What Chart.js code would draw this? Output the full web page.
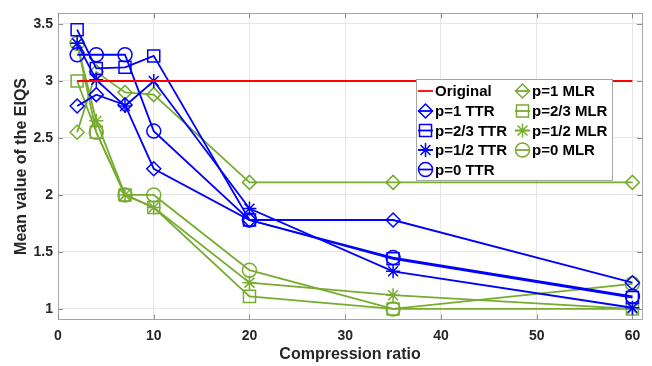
<!DOCTYPE html>
<html>
<head>
<meta charset="utf-8">
<script src="https://cdn.jsdelivr.net/npm/chart.js@4.4.0/dist/chart.umd.min.js"></script>
<style>
html, body { margin: 0; padding: 0; background: #fff; }
#grafico { display: block; }
</style>
</head>
<body>
<canvas id="grafico" width="652" height="366"></canvas>
<script>
// datos
const ratios = [2, 4, 7, 10, 20, 35, 60];
const original = [3, 3, 3, 3, 3, 3, 3];
const p1TTR = [2.78, 2.88, 2.79, 2.23, 1.78, 1.78, 1.23];
const p23TTR = [3.45, 3.11, 3.12, 3.22, 1.78, 1.44, 1.10];
const p12TTR = [3.33, 3.01, 2.78, 3.00, 1.88, 1.33, 1.01];
const p0TTR = [3.23, 3.23, 3.23, 2.56, 1.78, 1.45, 1.11];
const p1MLR = [2.55, 3.08, 2.90, 2.88, 2.11, 2.11, 2.11];
const p23MLR = [3.00, 2.55, 2.00, 1.89, 1.11, 1.00, 1.00];
const p12MLR = [3.33, 2.65, 2.00, 1.89, 1.23, 1.12, 1.00];
const p0MLR = [3.33, 2.55, 2.00, 2.00, 1.34, 1.00, 1.22];
const xTicks = [0, 10, 20, 30, 40, 50, 60];
const yTicks = [1, 1.5, 2, 2.5, 3, 3.5];

const azul = '#0000ff';
const verde = '#77ac30';
const rojo = '#ff0000';
const fuente = '"Liberation Sans", Arial, sans-serif';

function puntos(valores) {
    return ratios.map(function (r, i) { return { x: r, y: valores[i] }; });
}

function serie(label, valores, color, estilo, radio) {
    return {
        label: label,
        data: puntos(valores),
        borderColor: color,
        backgroundColor: color,
        borderWidth: 1.8,
        pointStyle: estilo,
        pointRadius: radio,
        pointHoverRadius: radio,
        pointBorderColor: color,
        pointBackgroundColor: 'rgba(0,0,0,0)',
        pointBorderWidth: 1.5,
        tension: 0,
        clip: false
    };
}

function marcador(ctx, estilo, x, y, r) {
    ctx.beginPath();
    if (estilo === 'circle') {
        ctx.arc(x, y, r, 0, Math.PI * 2);
    } else if (estilo === 'rect') {
        const s = r * Math.SQRT1_2;
        ctx.rect(x - s, y - s, 2 * s, 2 * s);
    } else if (estilo === 'rectRot') {
        ctx.moveTo(x, y - r);
        ctx.lineTo(x + r, y);
        ctx.lineTo(x, y + r);
        ctx.lineTo(x - r, y);
        ctx.closePath();
    } else if (estilo === 'star') {
        for (let k = 0; k < 4; k++) {
            const a = k * Math.PI / 4;
            ctx.moveTo(x - r * Math.cos(a), y - r * Math.sin(a));
            ctx.lineTo(x + r * Math.cos(a), y + r * Math.sin(a));
        }
    }
    ctx.stroke();
}

// marco de los ejes y marcas hacia dentro
const marco = {
    id: 'marco',
    beforeDatasetsDraw(chart) {
        const a = chart.chartArea;
        const ctx = chart.ctx;
        const sx = chart.scales.x;
        const sy = chart.scales.y;
        ctx.save();
        ctx.strokeStyle = '#a6a6a6';
        ctx.lineWidth = 1;
        ctx.strokeRect(Math.round(a.left) + 0.5, Math.round(a.top) + 0.5,
            Math.round(a.right - a.left), Math.round(a.bottom - a.top));
        ctx.strokeStyle = '#8c8c8c';
        ctx.beginPath();
        xTicks.forEach(function (v) {
            const px = Math.round(sx.getPixelForValue(v)) + 0.5;
            ctx.moveTo(px, a.bottom); ctx.lineTo(px, a.bottom - 5);
            ctx.moveTo(px, a.top); ctx.lineTo(px, a.top + 5);
        });
        yTicks.forEach(function (v) {
            const py = Math.round(sy.getPixelForValue(v)) + 0.5;
            ctx.moveTo(a.left, py); ctx.lineTo(a.left + 5, py);
            ctx.moveTo(a.right, py); ctx.lineTo(a.right - 5, py);
        });
        ctx.stroke();
        ctx.restore();
    }
};

// leyenda en dos columnas como en la figura
const leyenda = {
    id: 'leyenda',
    afterDraw(chart) {
        const ctx = chart.ctx;
        const ds = chart.data.datasets;
        ctx.save();
        ctx.fillStyle = '#ffffff';
        ctx.fillRect(416.5, 79.5, 196, 101);
        ctx.strokeStyle = '#a6a6a6';
        ctx.lineWidth = 1;
        ctx.strokeRect(416.5, 79.5, 196, 101);
        const columnas = [[0, 1, 2, 3, 4], [5, 6, 7, 8]];
        const xs = [418, 515];
        const filas = [91, 111, 130.5, 150, 169.5];
        ctx.font = 'bold 15px ' + fuente;
        ctx.textBaseline = 'middle';
        columnas.forEach(function (col, c) {
            col.forEach(function (idx, f) {
                const d = ds[idx];
                const x0 = xs[c];
                const y = filas[f];
                ctx.strokeStyle = d.borderColor;
                ctx.lineWidth = 1.8;
                ctx.beginPath();
                ctx.moveTo(x0, y);
                ctx.lineTo(x0 + 15, y);
                ctx.stroke();
                if (d.pointStyle && d.pointRadius > 0) {
                    ctx.lineWidth = 1.5;
                    marcador(ctx, d.pointStyle, x0 + 7.5, y, d.pointRadius);
                }
                ctx.fillStyle = '#000000';
                ctx.fillText(d.label, x0 + 17, y + 1);
            });
        });
        ctx.restore();
    }
};

const ctx = document.getElementById('grafico');

new Chart(ctx, {
    type: 'line',
    data: {
        datasets: [
            Object.assign(serie('Original', original, rojo, false, 0), { borderWidth: 2 }),
            serie('p=1 TTR', p1TTR, azul, 'rectRot', 7),
            serie('p=2/3 TTR', p23TTR, azul, 'rect', 8.5),
            serie('p=1/2 TTR', p12TTR, azul, 'star', 7),
            serie('p=0 TTR', p0TTR, azul, 'circle', 7),
            serie('p=1 MLR', p1MLR, verde, 'rectRot', 7),
            serie('p=2/3 MLR', p23MLR, verde, 'rect', 8.5),
            serie('p=1/2 MLR', p12MLR, verde, 'star', 7),
            serie('p=0 MLR', p0MLR, verde, 'circle', 7)
        ]
    },
    options: {
        responsive: false,
        animation: false,
        devicePixelRatio: 1,
        layout: { padding: { left: 0, top: 9, right: 9, bottom: 0 } },
        plugins: {
            legend: { display: false },
            tooltip: { enabled: false }
        },
        scales: {
            x: {
                type: 'linear',
                min: 0,
                max: 61,
                afterBuildTicks: function (scale) {
                    scale.ticks = xTicks.map(function (v) { return { value: v }; });
                },
                afterFit: function (scale) { scale.height = 46.5; },
                grid: { color: '#e6e6e6', drawTicks: false },
                border: { display: false },
                ticks: {
                    padding: 8,
                    color: '#262626',
                    font: { family: fuente, size: 14, weight: 'bold' }
                },
                title: {
                    display: true,
                    text: 'Compression ratio',
                    color: '#262626',
                    padding: { top: 0, bottom: 2 },
                    font: { family: fuente, size: 16, weight: 'bold' }
                }
            },
            y: {
                min: 0.907,
                max: 3.593,
                afterBuildTicks: function (scale) {
                    scale.ticks = yTicks.map(function (v) { return { value: v }; });
                },
                afterFit: function (scale) { scale.width = 58; },
                grid: { color: '#e6e6e6', drawTicks: false },
                border: { display: false },
                ticks: {
                    padding: 5,
                    color: '#262626',
                    font: { family: fuente, size: 14, weight: 'bold' },
                    callback: function (v) { return String(v); }
                },
                title: {
                    display: true,
                    text: 'Mean value of the EIQS',
                    color: '#262626',
                    padding: { top: 12, bottom: 0 },
                    font: { family: fuente, size: 16, weight: 'bold' }
                }
            }
        }
    },
    plugins: [marco, leyenda]
});
</script>
</body>
</html>
